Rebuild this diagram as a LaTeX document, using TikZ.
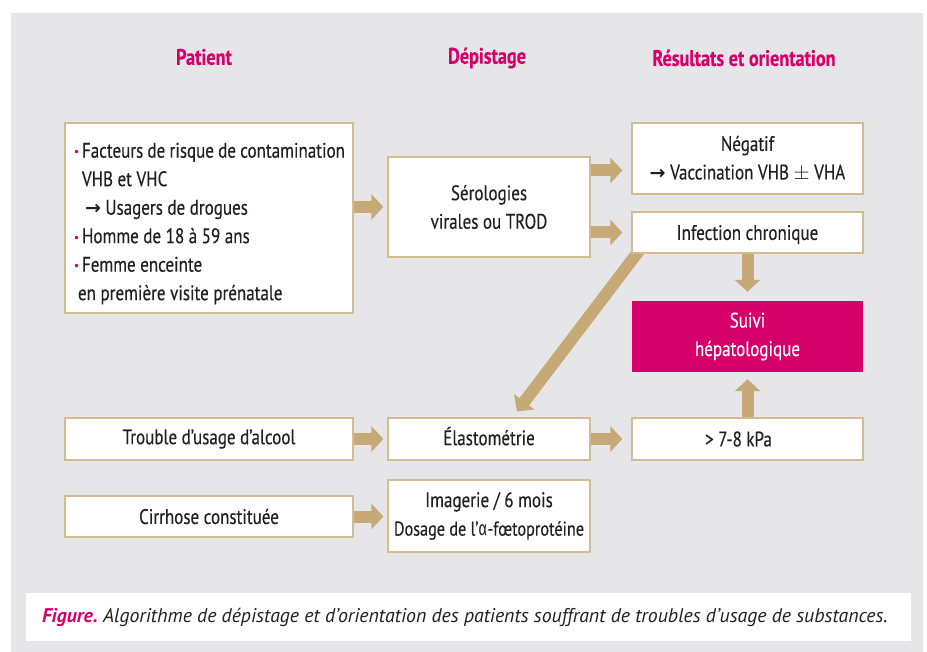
\documentclass[tikz,border=0pt]{standalone}
\usepackage{fontspec}
\setmainfont{PT Sans}[FakeStretch=0.81, FakeBold=0.3]
\newfontfamily\capfont{PT Sans}
\newfontfamily\grkfont{Fira Sans}[FakeStretch=0.75]
\newfontfamily\symfont{DejaVu Sans}
\usetikzlibrary{positioning,calc,arrows.meta}
\definecolor{bggray}{HTML}{E6E6E8}
\definecolor{tanarrow}{HTML}{C7A977}
\definecolor{tanline}{HTML}{D3BC92}
\definecolor{mag}{HTML}{D5006A}
\definecolor{ink}{HTML}{231F20}
\newcommand{\bodyfont}{\fontsize{21}{28.5}\selectfont}
\newcommand{\bul}{\makebox[9pt][l]{\raisebox{1pt}{\textcolor{mag}{\symfont\fontsize{12}{12}\selectfont •}}}}
\newcommand{\arr}{{\symfont\bfseries\fontsize{19}{19}\selectfont →}}
\pgfdeclarelayer{back}
\pgfsetlayers{back,main}

\begin{document}
\begin{tikzpicture}[x=1pt, y=-1pt,
  box/.style={draw=tanline, line width=1.2pt, fill=white, text=ink, font=\bodyfont, inner sep=0pt, align=center},
  hot/.style={fill=mag, text=white, font=\bodyfont, inner sep=0pt, align=center},
  hdr/.style={font=\bfseries\fontsize{22.5}{26}\selectfont, text=mag},
  flow/.style={draw=tanarrow, line width=12pt, -{Triangle[width=25pt,length=12pt]}},
]
\useasboundingbox (0,0) rectangle (927,652);
% column heads
\node[hdr] (hpat) at (204,57) {Patient};
\node[hdr] (hdep) at (487,58) {Dépistage};
\node[hdr] (hres) at (744,58) {Résultats et orientation};
% left column
\node[box, minimum width=288pt, minimum height=190pt, align=flush left, text width=272pt] (pat) at (209,218) {%
\rule{0pt}{26pt}\bul Facteurs de risque de contamination\\
\hspace*{9pt}VHB et VHC\\
\hspace*{12pt}\arr\ Usagers de drogues\\
\bul Homme de 18 à 59 ans\\
\bul Femme enceinte\\
\hspace*{5pt}en première visite prénatale};
\node[box, minimum width=288pt, minimum height=42pt] (alc) at (209,439) {Trouble d’usage d’alcool};
\node[box, minimum width=288pt, minimum height=41pt] (cir) at (209,516.5) {Cirrhose constituée};
% middle column
\node[box, minimum width=202pt, minimum height=100pt] (sero) at (489,207) {Sérologies\\virales ou TROD};
\node[box, minimum width=202pt, minimum height=42pt] (elas) at (489,439) {\rule[-6pt]{0pt}{6pt}Élastométrie};
\node[box, minimum width=202pt, minimum height=72pt] (img) at (489,516) {Imagerie / 6 mois\\{\fontsize{20}{27}\selectfont Dosage de l’{\grkfont α}-fœtoprotéine}};
% right column
\node[box, minimum width=231pt, minimum height=71pt] (neg) at (747.5,158.5) {Négatif\\\arr\ Vaccination VHB $\pm$ VHA};
\node[box, minimum width=231pt, minimum height=41pt] (inf) at (747.5,232.5) {\rule{0pt}{19pt}Infection chronique};
\node[hot, minimum width=231pt, minimum height=71pt] (suivi) at (747.5,336.5) {Suivi\\hépatologique};
\node[box, minimum width=231pt, minimum height=42pt] (kpa) at (747.5,439) {\hspace*{-18pt}> 7-8 kPa};
% arrows
\coordinate (s1) at ($(sero.north east)+(0,14)$);
\draw[flow] (pat.east |- sero.west) -- ($(sero.west)+(-4,0)$);
\draw[flow] (s1) -- ($(s1 -| neg.west)+(-9,0)$);
\draw[flow] (sero.east |- inf.west) -- ($(inf.west)+(-9,0)$);
\draw[flow] (inf.south) -- ($(suivi.north)+(0,-9)$);
\draw[flow] (kpa.north) -- ($(suivi.south)+(0,7)$);
\draw[flow] (alc.east) -- ($(elas.west)+(-4,0)$);
\draw[flow] (elas.east) -- ($(kpa.west)+(-9,0)$);
\draw[flow] (cir.east) -- ($(img.west |- cir.east)+(-4,0)$);
\begin{pgfonlayer}{back}
  \fill[white] (0,0) rectangle (927,652);
  \fill[bggray] (11,13) rectangle (923,652);
  \draw[flow] ($(inf.south west)+(13,-10)$) -- ($(elas.north)+(28,-6)$);
\end{pgfonlayer}
% caption
\node[fill=white, minimum width=885pt, minimum height=48pt, inner xsep=16pt, text width=853pt, align=flush left,
  font=\capfont\itshape\fontsize{19.8}{22}\selectfont, text=ink] (cap) at (468.5,617)
  {\textcolor{mag}{\bfseries Figure.}\ Algorithme de dépistage et d’orientation des patients souffrant de troubles d’usage de substances.};
\end{tikzpicture}
\end{document}
